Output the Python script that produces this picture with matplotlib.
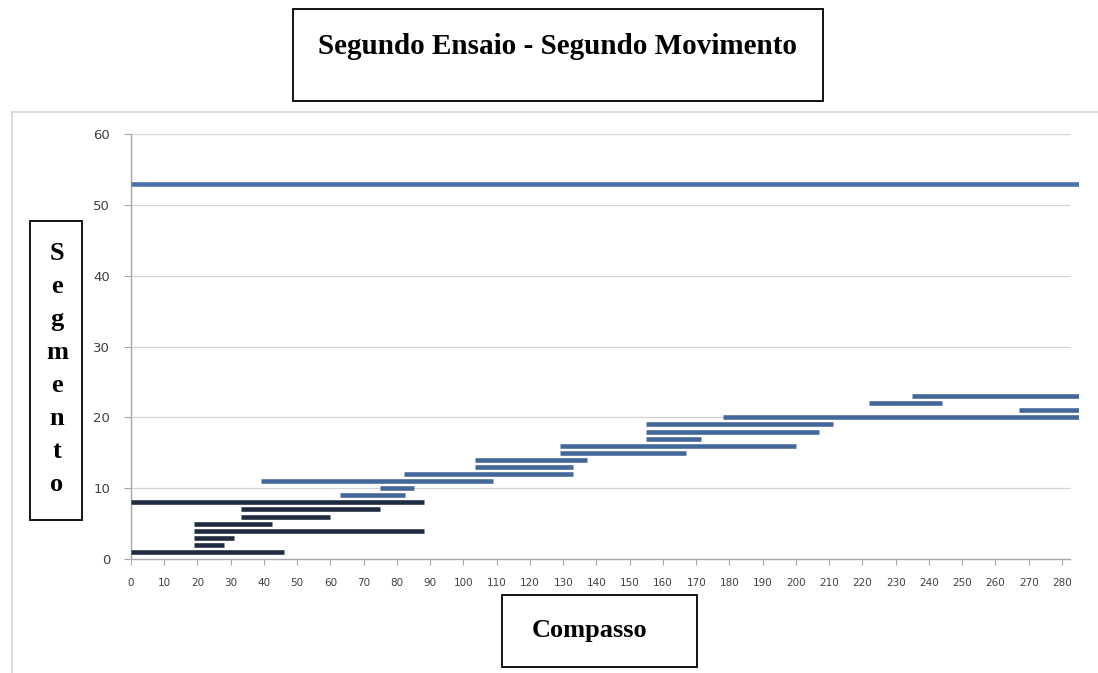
import matplotlib
matplotlib.use("Agg")
import matplotlib.pyplot as plt
from matplotlib.patches import Rectangle
from matplotlib.lines import Line2D

# -- data --------------------------------------------------------------------
segments = [1, 2, 3, 4, 5, 6, 7, 8, 9, 10, 11, 12, 13, 14, 15, 16, 17, 18,
            19, 20, 21, 22, 23, 53]
starts = [0, 19, 19, 19, 19, 33, 33, 0, 63, 75, 39, 82, 103.5, 103.5, 129,
          129, 155, 155, 155, 178, 267, 222, 235, 0]
ends = [46, 28, 31, 88, 42.5, 60, 75, 88, 82.5, 85, 109, 133, 133, 137, 167,
        200, 171.5, 207, 211, 285, 285, 244, 285, 285]
x_ticks = list(range(0, 281, 10))
y_ticks = list(range(0, 61, 10))

title = "Segundo Ensaio - Segundo Movimento"
xlabel = "Compasso"
ylabel = "Segmento"

W, H = 1098, 673
fig = plt.figure(figsize=(W / 100, H / 100), dpi=100)


def fx(px):
    return px / W


def fy(py):
    return 1 - py / H


# light frame of the original chart object
fig.add_artist(Line2D([fx(12), fx(1098)], [fy(112), fy(112)],
                      color="#d6d6d6", lw=1.2))
fig.add_artist(Line2D([fx(12), fx(12)], [fy(112), fy(673)],
                      color="#d6d6d6", lw=1.2))

ax = fig.add_axes([fx(131), fy(559), fx(1078.6) - fx(131), fy(134) - fy(559)])

# -- segments ------------------------------------------------------------------
colors = []
for s in segments:
    if s == 53:
        colors.append("#4a72aa")
    elif s <= 8:
        colors.append("#1f2b40")
    else:
        colors.append("#44679a")

lc = ax.hlines(segments, starts, ends, colors=colors, linewidth=3.3, zorder=3)
lc.set_capstyle("butt")

ax.set_xlim(0, 285)
ax.set_ylim(0, 60)
ax.set_xticks(x_ticks)
ax.set_yticks(y_ticks)
# gridlines stop a little short of the right edge, as in the original
ax.hlines(y_ticks[1:], 0, 282.5, colors="#d4d4d4", lw=0.9, zorder=0)

for side in ["top", "right"]:
    ax.spines[side].set_visible(False)
for side in ["left", "bottom"]:
    ax.spines[side].set_color("#a8a8a8")
    ax.spines[side].set_linewidth(1.0)
ax.spines["bottom"].set_bounds(0, 282.5)

ax.tick_params(axis="x", direction="out", length=4, color="#a8a8a8",
               labelsize=7.5, labelcolor="#404040", pad=10)
ax.tick_params(axis="y", direction="out", length=5, color="#a8a8a8",
               labelsize=9.5, labelcolor="#404040", pad=10)

# -- boxed text labels ---------------------------------------------------------
def box(x0, y0, x1, y1):
    fig.add_artist(Rectangle((fx(x0), fy(y1)), fx(x1) - fx(x0), fy(y0) - fy(y1),
                             transform=fig.transFigure, fill=False,
                             edgecolor="black", lw=1.3))


serif = "Liberation Serif"

box(293, 9, 823, 101)
fig.text(fx(557), fy(46), title, ha="center", va="center",
         family=serif, fontweight="bold", fontsize=21)

box(30, 221, 82, 520)
fig.text(fx(57), fy(369), "\n".join(ylabel), ha="center", va="center",
         multialignment="center", family=serif, fontweight="bold",
         fontsize=19, linespacing=1.55)

box(502, 595, 697, 667)
fig.text(fx(590), fy(630), xlabel, ha="center", va="center",
         family=serif, fontweight="bold", fontsize=19)

fig.savefig("out.png", dpi=100)
